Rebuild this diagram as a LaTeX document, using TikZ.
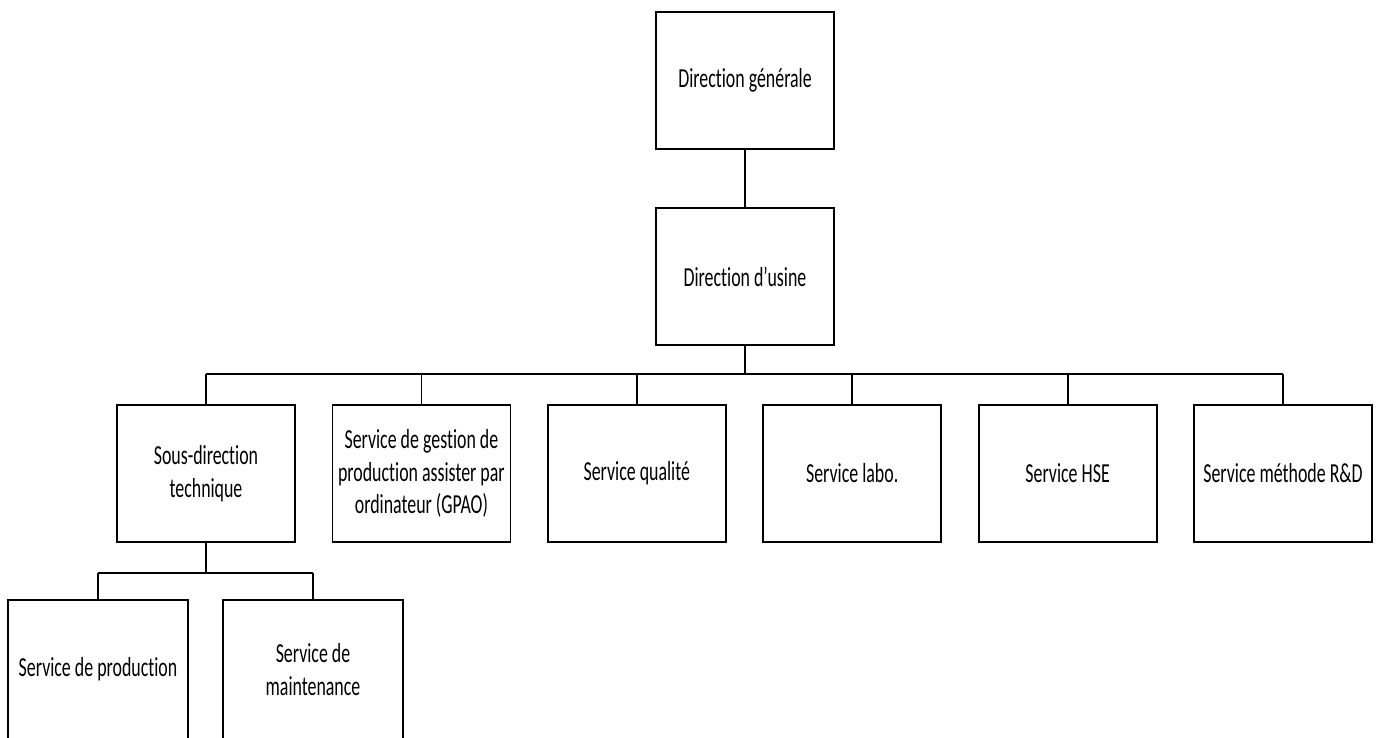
\documentclass[tikz,border=0pt]{standalone}
\usepackage{fontspec}
\setmainfont[FakeStretch=0.65,Ligatures=NoCommon]{Carlito}
\begin{document}
\begin{tikzpicture}[x=1pt,y=-1pt,
  unit/.style={draw, line width=1.8pt, rectangle, inner sep=0pt,
    minimum width=178pt, minimum height=137pt, align=center,
    font=\fontsize{27.5}{32.5}\selectfont},
  leaf/.style={unit, draw=none},
  link/.style={line width=1.8pt}]
\useasboundingbox (0,0) rectangle (1379,738);
\clip (0,0) rectangle (1379,738);

% top of the chart
\node[unit] (dg) at (745,80.5) {Direction générale};
\node[unit] (du) at (745,276.5) {Direction d’usine};

% services under the plant management
\node[unit] (sdt)  at (206,473.5)    {Sous-direction\\technique};
\node[unit] (gpao) at (421.4,473.5)  {Service de gestion de\\production assister par\\ordinateur (GPAO)};
\node[unit] (qual) at (636.8,473.5)  {Service qualité};
\node[unit] (labo) at (852.2,473.5)  {Service labo.};
\node[unit] (hse)  at (1067.6,473.5) {Service HSE};
\node[unit] (rd)   at (1283,473.5)   {Service méthode R\&D};

% services under the technical sub-direction (boxes run past the lower edge)
\node[leaf] (prod)  at (98,669.5)  {Service de production};
\node[leaf] (maint) at (313,669.5) {Service de\\maintenance};
\foreach \b in {prod,maint}
  \draw[link] ([yshift=-10pt]\b.south west) -- (\b.north west)
              -- (\b.north east) -- ([yshift=-10pt]\b.south east);

% connectors
\coordinate (bus) at (745,374);
\coordinate (sub) at (206,573);
\draw[link] (dg.south) -- (du.north);
\draw[link] (du.south) -- (bus);
\draw[link] (sdt.north |- bus) -- (rd.north |- bus);
\foreach \b in {sdt,gpao,qual,labo,hse,rd}
  \draw[link] (\b.north |- bus) -- (\b.north);
\draw[link] (sdt.south) -- (sub);
\draw[link] (prod.north |- sub) -- (maint.north |- sub);
\foreach \b in {prod,maint}
  \draw[link] (\b.north |- sub) -- (\b.north);
\end{tikzpicture}
\end{document}
